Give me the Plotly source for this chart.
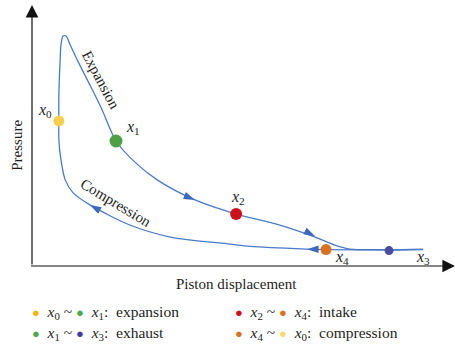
import plotly.graph_objects as go

# ---------------- data (arbitrary units: displacement 0-100, pressure 0-100) ----------------
# expansion + exhaust path: x0 -> peak -> x1 -> x2 -> x3 (right end)
upper_disp = [6.4, 6.4, 6.7, 6.9, 7.4, 8.1, 9.1, 11.0, 13.8, 16.7, 20.0, 24.5, 29.8, 38.8, 48.6, 59.0, 67.4, 72.1, 75.7, 85.0, 93.1]
upper_pres = [55.6, 65.5, 78.9, 84.7, 88.1, 88.1, 84.7, 78.2, 69.3, 59.8, 47.9, 39.8, 33.0, 25.3, 19.9, 15.7, 11.1, 8.0, 6.5, 6.3, 6.5]
# intake + compression path: right end -> x4 -> x0
lower_disp = [93.1, 85.0, 70.0, 65.2, 51.9, 47.1, 32.9, 23.3, 13.8, 9.8, 7.9, 6.9, 6.4, 6.4]
lower_pres = [6.3, 6.1, 6.3, 6.5, 7.5, 8.4, 11.1, 15.7, 23.4, 28.0, 33.0, 40.6, 48.3, 55.6]

state_names = ["0", "1", "2", "4", "3"]
state_disp = [6.4, 20.0, 48.6, 70.0, 85.0]
state_pres = [55.6, 47.9, 19.9, 6.3, 5.9]

arrow_disp = [38.8, 67.4, 65.5, 13.8]
arrow_pres = [25.3, 11.4, 6.4, 23.4]

stroke_labels = ["Expansion", "Compression"]
axis_titles = ["Piston displacement", "Pressure"]
legend_rows = [
    ("0", "1", "expansion"),
    ("1", "3", "exhaust"),
    ("2", "4", "intake"),
    ("4", "0", "compression"),
]

# ---------------- style ----------------
LINE = "#4A7BC8"
ARROW = "#3A69BE"
TXT = "#1e1e1e"
FONT = "Liberation Serif"
XMAX, YMAX = 100.7, 100.0
state_colors = ["#F6D04D", "#4EA045", "#D0111B", "#D9731F", "#4B4C9E"]
state_sizes = [11, 13, 12, 11, 9]
arrow_angles = [113, 117, 270, 299]
legend_dot_colors = [("#F2B705", "#4CA84C"), ("#4CA84C", "#3F3F9F"),
                     ("#D0101A", "#D9731E"), ("#D9731E", "#F8DA6B")]

fig = go.Figure()
fig.add_trace(go.Scatter(x=upper_disp, y=upper_pres, mode="lines",
                         line=dict(color=LINE, width=1.3, shape="spline", smoothing=0.8),
                         hoverinfo="skip"))
fig.add_trace(go.Scatter(x=lower_disp, y=lower_pres, mode="lines",
                         line=dict(color=LINE, width=1.3, shape="spline", smoothing=0.8),
                         hoverinfo="skip"))
fig.add_trace(go.Scatter(x=arrow_disp, y=arrow_pres, mode="markers",
                         marker=dict(symbol="arrow", size=12, color=ARROW, angle=arrow_angles,
                                     opacity=1, line=dict(width=0)),
                         hoverinfo="skip", cliponaxis=False))
fig.add_trace(go.Scatter(x=state_disp, y=state_pres, mode="markers",
                         marker=dict(size=state_sizes, color=state_colors, opacity=1, line=dict(width=0)),
                         hoverinfo="skip", cliponaxis=False))

ann = []
# axes with arrow heads
ann.append(dict(x=XMAX, y=0, ax=-0.6, ay=0, xref="x", yref="y", axref="x", ayref="y",
                text="", showarrow=True, arrowhead=2, arrowsize=2.1, arrowwidth=1.2, arrowcolor="#111"))
ann.append(dict(x=0, y=YMAX, ax=0, ay=0, xref="x", yref="y", axref="x", ayref="y",
                text="", showarrow=True, arrowhead=2, arrowsize=2.1, arrowwidth=1.2, arrowcolor="#111"))


def label(xd, yd, text, size=14, angle=0, xanchor="center"):
    # position given in data units, placed in paper coords (so it may lie outside the axes)
    ann.append(dict(x=xd / XMAX, y=yd / YMAX, xref="paper", yref="paper", text=text, showarrow=False,
                    xanchor=xanchor, yanchor="middle", textangle=angle,
                    font=dict(family=FONT, size=size, color=TXT)))


# axis titles
label(48.8, -6.9, axis_titles[0], size=15)
label(-3.6, 46.4, axis_titles[1], size=15, angle=-90)
# stroke labels
label(16.4, 71.3, stroke_labels[0], size=15, angle=62)
label(20.0, 24.1, stroke_labels[1], size=15, angle=31)
# state labels
label_pos = {"0": (3.1, 59.4), "1": (24.0, 52.9), "2": (49.0, 26.1), "4": (73.8, 3.4), "3": (93.1, 3.4)}
for n in state_names:
    lx, ly = label_pos[n]
    label(lx, ly, f"<i>x</i><sub>{n}</sub>", size=16)
# legend
leg_pos = [(-0.5, -18.0), (-0.5, -25.7), (47.9, -18.0), (47.9, -25.7)]
for (a, b, word), (c1, c2), (lx, ly) in zip(legend_rows, legend_dot_colors, leg_pos):
    t = (f"<span style='color:{c1};font-size:13px'>●</span>  <i>x</i><sub>{a}</sub> ~ "
         f"<span style='color:{c2};font-size:13px'>●</span>  <i>x</i><sub>{b}</sub>:  {word}")
    label(lx, ly, t, size=15.5, xanchor="left")

fig.update_layout(
    width=455, height=345,
    margin=dict(l=32, r=0, t=5, b=79),
    paper_bgcolor="white", plot_bgcolor="white",
    showlegend=False,
    xaxis=dict(range=[0, XMAX], visible=False, fixedrange=True),
    yaxis=dict(range=[0, YMAX], visible=False, fixedrange=True),
    annotations=ann,
)
fig.write_html("out.html")
